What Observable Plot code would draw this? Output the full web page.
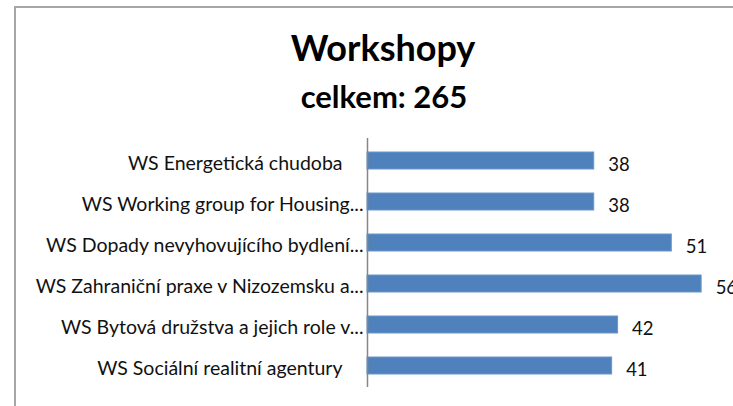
<!DOCTYPE html>
<html>
<head>
<meta charset="utf-8">
<script src="https://cdn.jsdelivr.net/npm/d3@7"></script>
<script src="https://cdn.jsdelivr.net/npm/@observablehq/plot@0.6"></script>
<style>
  html, body { margin: 0; padding: 0; background: #fff; }
  #wrap { position: relative; width: 733px; height: 406px; overflow: hidden; background: #fff; font-family: Lato, "Open Sans", sans-serif; }
  #frame { position: absolute; left: 14px; top: 6px; width: 740px; height: 420px; border-top: 2px solid #a6a6a6; border-left: 2px solid #a6a6a6; box-sizing: border-box; }
  #title { position: absolute; left: 0; width: 766px; top: 25px; text-align: center; font-weight: 700; font-size: 36px; line-height: 44px; color: #000; }
  #subtitle { position: absolute; left: 0; width: 768px; top: 78px; text-align: center; font-weight: 700; font-size: 31px; line-height: 36px; color: #000; }
  #chart { position: absolute; left: 0; top: 0; }
</style>
</head>
<body>
<div id="wrap">
  <div id="frame"></div>
  <div id="title">Workshopy</div>
  <div id="subtitle">celkem: 265</div>
  <div id="chart"></div>
</div>
<script>
const categories = [
  "WS Energetická chudoba",
  "WS Working group for Housing...",
  "WS Dopady nevyhovujícího bydlení...",
  "WS Zahraniční praxe v Nizozemsku a...",
  "WS Bytová družstva a jejich role v...",
  "WS Sociální realitní agentury"
];
const values = [38, 38, 51, 56, 42, 41];

const data = categories.map((c, i) => ({category: c, value: values[i]}));
const truncated = categories.filter(c => c.endsWith("..."));
const full = categories.filter(c => !c.endsWith("..."));

const chart = Plot.plot({
  width: 733,
  height: 406,
  marginTop: 138,
  marginBottom: 19,
  marginLeft: 367,
  marginRight: 8,
  style: {fontFamily: "Lato, 'Open Sans', sans-serif", fontSize: "19.5px", background: "transparent", color: "#000"},
  x: {domain: [0, 60], axis: null},
  y: {domain: categories, paddingInner: 0.59, paddingOuter: 0.295, axis: null},
  marks: [
    Plot.barX(data, {x: "value", y: "category", fill: "#4F81BD", stroke: "#6c96c9", strokeWidth: 1}),
    Plot.ruleX([0], {stroke: "#868686", strokeWidth: 1.5}),
    Plot.axisY(full, {tickSize: 0, tickPadding: 25, dy: 3, fontSize: 19.5, fill: "#111", label: null}),
    Plot.axisY(truncated, {tickSize: 0, tickPadding: 4, dy: 3, fontSize: 19.5, fill: "#111", label: null}),
    Plot.text(data, {x: "value", y: "category", text: d => String(d.value), textAnchor: "start", dx: 14, dy: 4, fontSize: 18.5, fill: "#111"})
  ]
});
document.getElementById("chart").appendChild(chart);
</script>
</body>
</html>
